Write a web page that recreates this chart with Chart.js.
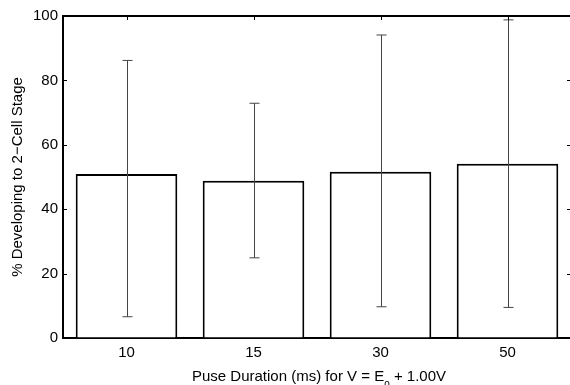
<!DOCTYPE html>
<html>
<head>
<meta charset="utf-8">
<script src="https://cdn.jsdelivr.net/npm/chart.js@4.4.0/dist/chart.umd.min.js"></script>
<style>
  html, body { margin: 0; padding: 0; background: #fff; overflow: hidden; }
  #wrap { width: 574px; height: 385px; }
</style>
</head>
<body>
<div id="wrap"><canvas id="pulseChart" width="574" height="385"></canvas></div>
<script>
const durations = ["10", "15", "30", "50"];
const meanPct = [50.9, 48.8, 51.6, 54.1];
const errLow = [6.6, 24.9, 9.7, 9.5];
const errHigh = [86.2, 72.9, 94.1, 98.8];

const FONT = "'Liberation Sans', Arial, Helvetica, sans-serif";

// error bars from the low/high arrays
const errorBars = {
  id: "errorBars",
  afterDatasetsDraw(chart) {
    const { ctx, scales: { x, y } } = chart;
    ctx.save();
    ctx.strokeStyle = "#444";
    ctx.lineWidth = 1;
    durations.forEach((d, i) => {
      const px = Math.round(x.getPixelForValue(i)) + 0.5;
      const top = y.getPixelForValue(errHigh[i]);
      const bot = y.getPixelForValue(errLow[i]);
      ctx.beginPath();
      ctx.moveTo(px, top); ctx.lineTo(px, bot);
      ctx.moveTo(px - 5, top); ctx.lineTo(px + 5, top);
      ctx.moveTo(px - 5, bot); ctx.lineTo(px + 5, bot);
      ctx.stroke();
    });
    ctx.restore();
  }
};

// box top/right and inward tick marks
const frame = {
  id: "frame",
  afterDraw(chart) {
    const { ctx, chartArea: a, scales: { x, y } } = chart;
    ctx.save();
    ctx.strokeStyle = "#000";
    ctx.lineWidth = 2;
    ctx.beginPath();
    ctx.moveTo(a.left, a.top); ctx.lineTo(a.right, a.top);
    ctx.moveTo(a.right, a.top); ctx.lineTo(a.right, a.bottom);
    ctx.stroke();
    ctx.lineWidth = 1;
    ctx.beginPath();
    y.ticks.forEach(t => {
      const py = Math.round(y.getPixelForValue(t.value)) + 0.5;
      ctx.moveTo(a.left, py); ctx.lineTo(a.left + 4, py);
      ctx.moveTo(a.right, py); ctx.lineTo(a.right - 4, py);
    });
    x.ticks.forEach((t, i) => {
      const px = Math.round(x.getPixelForValue(i)) + 0.5;
      ctx.moveTo(px, a.top); ctx.lineTo(px, a.top + 4);
    });
    ctx.stroke();

    // x axis title with subscript
    const main = "Puse Duration (ms) for V = E";
    const sub = "o";
    const rest = " + 1.00V";
    ctx.fillStyle = "#000";
    ctx.textBaseline = "alphabetic";
    ctx.font = "15px " + FONT;
    const w1 = ctx.measureText(main).width;
    const w3 = ctx.measureText(rest).width;
    ctx.font = "10px " + FONT;
    const w2 = ctx.measureText(sub).width;
    const total = w1 + w2 + w3;
    let tx = (a.left + a.right) / 2 - total / 2 + 2;
    const base = x.bottom - 4;
    ctx.font = "15px " + FONT;
    ctx.fillText(main, tx, base);
    ctx.font = "10px " + FONT;
    ctx.fillText(sub, tx + w1, base + 6);
    ctx.font = "15px " + FONT;
    ctx.fillText(rest, tx + w1 + w2, base);
    ctx.restore();
  }
};

new Chart(document.getElementById("pulseChart"), {
  type: "bar",
  data: {
    labels: durations,
    datasets: [{
      data: meanPct,
      backgroundColor: "#fff",
      borderColor: "#000",
      borderWidth: 2,
      barPercentage: 0.8,
      categoryPercentage: 1
    }]
  },
  options: {
    responsive: false,
    animation: false,
    layout: { padding: { top: 16, right: 3, left: 0, bottom: 0 } },
    plugins: {
      legend: { display: false },
      tooltip: { enabled: false }
    },
    scales: {
      x: {
        afterFit: s => { s.height = 47; },
        grid: { display: true, drawOnChartArea: false, drawTicks: false },
        border: { color: "#000", width: 2 },
        ticks: { color: "#000", font: { family: FONT, size: 15 }, padding: 6 }
      },
      y: {
        min: 0,
        max: 100,
        afterFit: s => { s.width = 63; },
        grid: { display: true, drawOnChartArea: false, drawTicks: false },
        border: { color: "#000", width: 2 },
        ticks: { stepSize: 20, color: "#000", font: { family: FONT, size: 15 }, padding: 5 },
        title: {
          display: true,
          text: "% Developing to 2\u2212Cell Stage",
          color: "#000",
          font: { family: FONT, size: 15 },
          padding: { top: 9, bottom: 0 }
        }
      }
    }
  },
  plugins: [errorBars, frame]
});
</script>
</body>
</html>
